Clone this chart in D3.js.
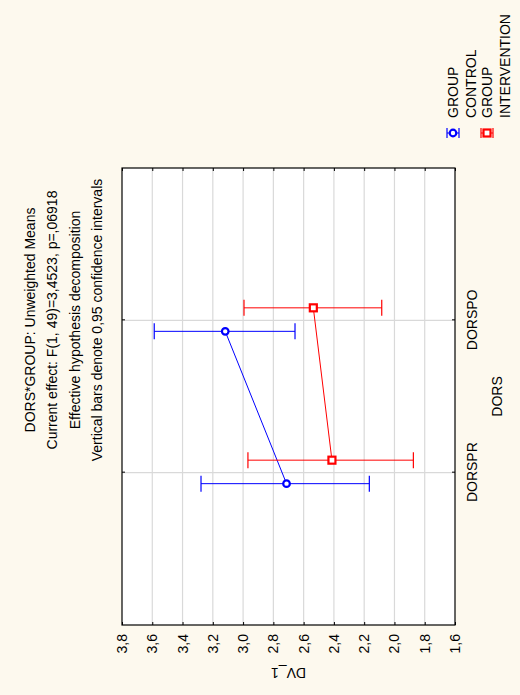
<!DOCTYPE html>
<html>
<head>
<meta charset="utf-8">
<script src="https://cdn.jsdelivr.net/npm/d3@7"></script>
<style>
  html, body { margin: 0; padding: 0; background: #fdf9ee; }
  svg { display: block; }
  text { font-family: Arial, "Liberation Sans", sans-serif; fill: #000; }
</style>
</head>
<body>
<svg id="chart" width="520" height="695"></svg>
<script>
// Levels of the DORS factor
const categories = ["DORSPR", "DORSPO"];
// Group series: means with 0.95 confidence limits per DORS level
const groups = ["GROUP CONTROL", "GROUP INTERVENTION"];
const controlMean = [2.713, 3.118];
const controlLow  = [2.166, 2.657];
const controlHigh = [3.278, 3.587];
const interventionMean = [2.413, 2.536];
const interventionLow  = [1.875, 2.084];
const interventionHigh = [2.968, 2.994];
// Value axis ticks
const yTicks = [1.6, 1.8, 2.0, 2.2, 2.4, 2.6, 2.8, 3.0, 3.2, 3.4, 3.6, 3.8];
const titleLines = [
  "DORS*GROUP: Unweighted Means",
  "Current effect: F(1, 49)=3,4523, p=,06918",
  "Effective hypothesis decomposition",
  "Vertical bars denote 0,95 confidence intervals"
];

const series = [
  { name: groups[0], mean: controlMean, low: controlLow, high: controlHigh, color: "#0000ff", shape: "circle", shift: -11 },
  { name: groups[1], mean: interventionMean, low: interventionLow, high: interventionHigh, color: "#ff0000", shape: "square", shift: 12.5 }
];

const W = 695, H = 520;
const svg = d3.select("#chart");
svg.append("rect").attr("width", 520).attr("height", 695).attr("fill", "#fdf9ee");

// The graph is laid out landscape and turned a quarter turn counter-clockwise.
const g = svg.append("g").attr("transform", `translate(0,${W}) rotate(-90)`);

const plot = { left: 70, right: 527, top: 122, bottom: 455 };

const x = d3.scalePoint().domain(categories).range([plot.left, plot.right]).padding(1);
const y = d3.scaleLinear().domain([1.6, 3.8]).range([plot.bottom, plot.top]);
const fmt = v => d3.format(".1f")(v).replace(".", ",");

// plot background
g.append("rect")
  .attr("x", plot.left).attr("y", plot.top)
  .attr("width", plot.right - plot.left).attr("height", plot.bottom - plot.top)
  .attr("fill", "#ffffff");

// grid lines
g.append("g").selectAll("line").data(yTicks.slice(1, -1)).join("line")
  .attr("x1", plot.left).attr("x2", plot.right)
  .attr("y1", d => y(d)).attr("y2", d => y(d))
  .attr("stroke", "#d9d9d9").attr("stroke-width", 1.2);
g.append("g").selectAll("line").data(categories).join("line")
  .attr("x1", d => x(d)).attr("x2", d => x(d))
  .attr("y1", plot.top).attr("y2", plot.bottom)
  .attr("stroke", "#d9d9d9").attr("stroke-width", 1.2);

// axes with inward ticks
const axL = g.append("g").attr("transform", `translate(${plot.left},0)`)
  .call(d3.axisLeft(y).tickValues(yTicks).tickFormat(fmt).tickSizeInner(-3).tickSizeOuter(0).tickPadding(9));
const axR = g.append("g").attr("transform", `translate(${plot.right},0)`)
  .call(d3.axisRight(y).tickValues(yTicks).tickFormat("").tickSizeInner(-3).tickSizeOuter(0));
const axB = g.append("g").attr("transform", `translate(0,${plot.bottom})`)
  .call(d3.axisBottom(x).tickSizeInner(-3).tickSizeOuter(0).tickPadding(12));
const axT = g.append("g").attr("transform", `translate(0,${plot.top})`)
  .call(d3.axisTop(x).tickFormat("").tickSizeInner(-3).tickSizeOuter(0));
[axL, axR, axB, axT].forEach(a => {
  a.select(".domain").remove();
  a.selectAll("line").attr("stroke", "#000");
  a.selectAll("text").attr("font-size", 14).attr("font-family", "Arial, 'Liberation Sans', sans-serif");
});

// frame
g.append("rect")
  .attr("x", plot.left).attr("y", plot.top)
  .attr("width", plot.right - plot.left).attr("height", plot.bottom - plot.top)
  .attr("fill", "none").attr("stroke", "#000").attr("stroke-width", 1.2);

// axis titles
g.append("text")
  .attr("transform", `translate(23,${(plot.top + plot.bottom) / 2}) rotate(-90)`)
  .attr("text-anchor", "middle").attr("dominant-baseline", "middle")
  .attr("font-size", 14).text("DV_1");
g.append("text")
  .attr("x", (plot.left + plot.right) / 2).attr("y", 502)
  .attr("text-anchor", "middle").attr("font-size", 14).text("DORS");

// title block
g.append("g").selectAll("text").data(titleLines).join("text")
  .attr("x", 375).attr("y", (d, i) => [35, 57, 80, 102][i])
  .attr("text-anchor", "middle").attr("font-size", 14).text(d => d);

// series: connecting line, error bars, markers
const capHalf = 8;
function marker(sel, s, cx, cy) {
  if (s.shape === "circle") {
    sel.append("circle").attr("cx", cx).attr("cy", cy).attr("r", 3.3)
      .attr("fill", "#fff").attr("stroke", s.color).attr("stroke-width", 2.2);
  } else {
    sel.append("rect").attr("x", cx - 3.5).attr("y", cy - 3.5).attr("width", 7).attr("height", 7)
      .attr("fill", "#fff").attr("stroke", s.color).attr("stroke-width", 2.2);
  }
}

series.forEach(s => {
  const sg = g.append("g");
  const pts = categories.map((c, i) => ({ cx: x(c) + s.shift, m: s.mean[i], lo: s.low[i], hi: s.high[i] }));
  sg.append("path")
    .attr("d", d3.line().x(d => d.cx).y(d => y(d.m))(pts))
    .attr("fill", "none").attr("stroke", s.color).attr("stroke-width", 1);
  pts.forEach(p => {
    sg.append("line").attr("x1", p.cx).attr("x2", p.cx).attr("y1", y(p.lo)).attr("y2", y(p.hi))
      .attr("stroke", s.color).attr("stroke-width", 1);
    [p.lo, p.hi].forEach(v => sg.append("line")
      .attr("x1", p.cx - capHalf).attr("x2", p.cx + capHalf).attr("y1", y(v)).attr("y2", y(v))
      .attr("stroke", s.color).attr("stroke-width", 1.2));
  });
  pts.forEach(p => marker(sg, s, p.cx, y(p.m)));
});

// legend
const legendY = [453, 487];
series.forEach((s, i) => {
  const lg = g.append("g");
  const cx = 562, cy = legendY[i];
  lg.append("line").attr("x1", cx).attr("x2", cx).attr("y1", cy - 6).attr("y2", cy + 6)
    .attr("stroke", s.color).attr("stroke-width", 1);
  [cy - 6, cy + 6].forEach(v => lg.append("line")
    .attr("x1", cx - 5).attr("x2", cx + 5).attr("y1", v).attr("y2", v)
    .attr("stroke", s.color).attr("stroke-width", 1.2));
  marker(lg, s, cx, cy);
  const words = s.name.split(" ");
  lg.selectAll("text").data(words).join("text")
    .attr("x", 577).attr("y", (d, j) => cy + 5 + j * 18)
    .attr("font-size", 14).text(d => d);
});
</script>
</body>
</html>
